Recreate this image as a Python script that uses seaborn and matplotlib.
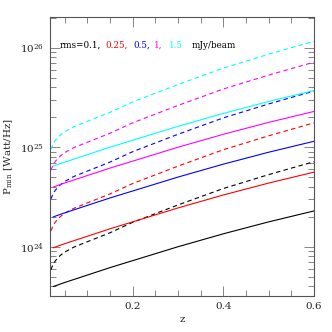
import numpy as np
import pandas as pd
import seaborn as sns
import matplotlib
matplotlib.use("Agg")
import matplotlib.pyplot as plt
from matplotlib.ticker import MultipleLocator, LogLocator, NullFormatter

# redshift grids
z_solid = [0.025, 0.05, 0.1, 0.15, 0.2, 0.3, 0.4, 0.5, 0.6]
z_dash = [0.02, 0.025, 0.03, 0.04, 0.05, 0.07, 0.1, 0.15, 0.2, 0.3, 0.4, 0.5, 0.6]

# log10 P_min [W/Hz], solid curves
solid_01 = [23.60, 23.64, 23.715, 23.79, 23.86, 24.00, 24.13, 24.25, 24.36]
solid_025 = [23.99, 24.03, 24.105, 24.18, 24.25, 24.39, 24.52, 24.64, 24.75]
solid_05 = [24.30, 24.34, 24.415, 24.49, 24.56, 24.70, 24.83, 24.95, 25.06]
solid_1 = [24.60, 24.64, 24.715, 24.79, 24.86, 25.00, 25.13, 25.25, 25.36]
solid_15 = [24.81, 24.85, 24.925, 25.00, 25.07, 25.21, 25.34, 25.46, 25.57]

# log10 P_min [W/Hz], dashed curves
dash_01 = [23.77, 23.825, 23.86, 23.91, 23.945, 23.995, 24.05, 24.14, 24.245, 24.42, 24.585, 24.725, 24.855]
dash_025 = [24.16, 24.215, 24.25, 24.30, 24.335, 24.385, 24.44, 24.53, 24.635, 24.81, 24.975, 25.115, 25.245]
dash_05 = [24.48, 24.535, 24.57, 24.62, 24.655, 24.705, 24.76, 24.85, 24.955, 25.13, 25.295, 25.435, 25.565]
dash_1 = [24.77, 24.825, 24.86, 24.91, 24.945, 24.995, 25.05, 25.14, 25.245, 25.42, 25.585, 25.725, 25.855]
dash_15 = [24.98, 25.035, 25.07, 25.12, 25.155, 25.205, 25.26, 25.35, 25.455, 25.63, 25.795, 25.935, 26.065]

colors = ["black", "red", "blue", "magenta", "cyan"]

sns.set_theme(style="ticks")
plt.rcParams["font.family"] = ["DejaVu Serif"]
plt.rcParams["mathtext.fontset"] = "dejavuserif"

fig = plt.figure(figsize=(3.32, 3.32), dpi=100)
ax = fig.add_axes([0.1506, 0.1084, 0.7952, 0.8389])

solids = [solid_01, solid_025, solid_05, solid_1, solid_15]
dashes = [dash_01, dash_025, dash_05, dash_1, dash_15]
for s, d, c in zip(solids, dashes, colors):
    sns.lineplot(x=z_solid, y=10 ** np.array(s), ax=ax, color=c, lw=0.8)
    sns.lineplot(x=z_dash, y=10 ** np.array(d), ax=ax, color=c, lw=0.8,
                 linestyle=(0, (4, 3)))

ax.set_yscale("log")
ax.set_xlim(0.018, 0.6)
ax.set_ylim(10 ** 23.505, 10 ** 26.304)

ax.xaxis.set_major_locator(MultipleLocator(0.2))
ax.xaxis.set_minor_locator(MultipleLocator(0.05))
ax.yaxis.set_major_locator(LogLocator(base=10))
ax.yaxis.set_minor_locator(LogLocator(base=10, subs=np.arange(2, 10)))
ax.yaxis.set_minor_formatter(NullFormatter())
ax.tick_params(which="both", direction="in", top=True, right=True,
               labelsize=7.5, width=0.5, color="#555555", pad=4)
ax.tick_params(which="major", length=7)
ax.tick_params(which="minor", length=4)
for sp in ax.spines.values():
    sp.set_linewidth(0.8)
    sp.set_color("#555555")

ax.set_xlabel("z", fontsize=7.5, labelpad=3)
ax.set_ylabel(r"P$_{\rm min}$ [Watt/Hz]", fontsize=7.5, labelpad=4)

# colour-coded rms annotation
xs = [0.038, 0.208, 0.314, 0.394, 0.451]
txts = ["rms=0.1,", "0.25,", "0.5,", "1,", "1.5"]
for x, t, c in zip(xs, txts, colors):
    ax.text(x, 0.901, t, color=c, fontsize=6.3, transform=ax.transAxes,
            va="center", ha="left")
ax.text(0.538, 0.901, "mJy/beam", color="black", fontsize=6.3,
        transform=ax.transAxes, va="center", ha="left")

fig.savefig("out.png", dpi=100)
